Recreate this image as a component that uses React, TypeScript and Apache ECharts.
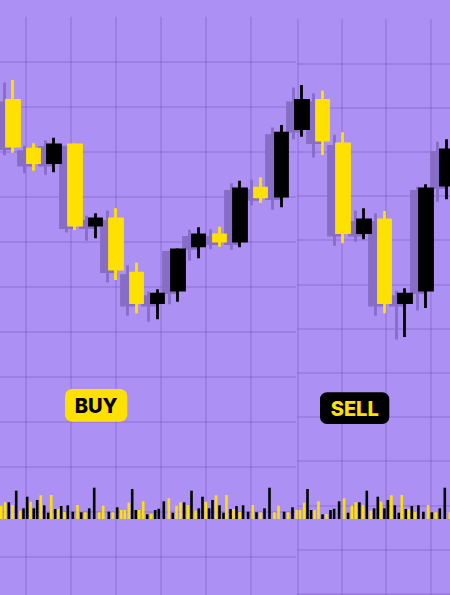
import React, { useEffect, useRef } from "react";
import * as echarts from "echarts";

// ---- candle data (price units) ----
const categories = [
  "D1", "D2", "D3", "D4", "D5", "D6", "D7", "D8", "D9", "D10", "D11",
  "D12", "D13", "D14", "D15", "D16", "D17", "D18", "D19", "D20", "D21", "D22",
];
const openPrices = [
  494.5, 445.8, 432.5, 450.2, 369.8, 376.2, 321.8, 292.5, 304.8, 349.2, 360.2,
  353.8, 406.8, 398.8, 466.5, 494.5, 451.2, 362.5, 375.2, 292.5, 304.8, 409.8,
];
const closePrices = [
  448.8, 432.5, 450.2, 369.8, 376.2, 325.8, 292.5, 300.8, 345.2, 360.2, 353.8,
  406.2, 398.2, 461.8, 494.5, 454.8, 362.5, 375.2, 292.5, 300.8, 406.0, 445.2,
];
const lowPrices = [
  442.3, 424.3, 422.7, 365.0, 356.7, 315.0, 281.7, 275.7, 293.3, 336.7, 348.3,
  347.7, 392.3, 387.7, 458.3, 440.0, 351.7, 355.7, 281.7, 258.0, 287.0, 395.7,
];
const highPrices = [
  515.0, 451.7, 457.3, 451.7, 381.7, 386.7, 332.3, 305.7, 346.7, 367.7, 368.3,
  414.3, 417.7, 470.0, 510.0, 504.3, 462.7, 386.7, 384.0, 306.7, 410.7, 455.7,
];

// ---- volume data ----
const volumeTimes = [
  1.2, 5.2, 8.8, 12.5, 16.2, 20.2, 23.5, 27.2, 30.5, 33.8, 37.2, 40.8, 44.2, 48.2, 51.2,
  55.2, 58.2, 61.2, 64.5, 67.8, 72.8, 77.5, 81.2, 85.2, 89.2, 94.2, 99.2, 103.2, 108.8, 112.8,
  117.2, 121.2, 124.8, 128.8, 132.2, 135.8, 139.2, 143.2, 147.2, 151.2, 155.2, 158.8, 163.8, 168.8, 172.8,
  176.5, 180.5, 184.1, 187.8, 191.5, 195.5, 198.8, 202.5, 205.8, 209.1, 212.5, 216.1, 219.5, 223.5, 226.5,
  230.5, 233.5, 236.5, 239.8, 243.1, 248.1, 252.8, 256.5, 260.5, 264.5, 269.5, 274.5, 278.5, 284.1, 288.1,
  292.5, 296.5, 300.1, 304.1, 307.5, 311.1, 314.5, 318.5, 322.5, 326.5, 330.5, 334.1, 339.1, 344.1, 348.1,
  351.8, 355.8, 359.4, 363.1, 366.8, 370.8, 374.1, 377.8, 381.1, 384.4, 387.8, 391.4, 394.8, 398.8, 401.8,
  405.8, 408.8, 411.8, 415.1, 418.4, 423.4, 428.1, 431.8, 435.8, 439.8, 444.8, 449.8,
];
const volumeValues = [
  13.3, 16.7, 16.7, 14, 28.3, 8.3, 10.7, 22.3, 17.3, 10.7, 19, 23.7, 13.7, 6.3, 24,
  10, 10, 13, 7, 13.7, 7.3, 14, 6.7, 6.7, 10.7, 31.3, 6.7, 13.3, 7.3, 6.7,
  11.7, 9, 9, 16.3, 30, 9, 9, 17.7, 4.7, 5, 9, 10.3, 17.7, 20.7, 6.3,
  13.3, 16.7, 16.7, 14, 28.3, 8.3, 10.7, 22.3, 17.3, 10.7, 19, 23.7, 13.7, 6.3, 24,
  10, 10, 13, 7, 13.7, 7.3, 14, 6.7, 6.7, 10.7, 31.3, 6.7, 13.3, 7.3, 6.7,
  11.7, 9, 9, 16.3, 30, 9, 9, 17.7, 4.7, 5, 9, 10.3, 17.7, 20.7, 6.3,
  13.3, 16.7, 16.7, 14, 28.3, 8.3, 10.7, 22.3, 17.3, 10.7, 19, 23.7, 13.7, 6.3, 24,
  10, 10, 13, 7, 13.7, 7.3, 14, 6.7, 6.7, 10.7, 31.3, 6.7,
];
// 1 = black (up), 0 = yellow (down)
const volumeUp = [
  0, 0, 1, 0, 1, 0, 1, 1, 0, 1, 1, 0, 1, 1, 0,
  1, 0, 1, 0, 1, 1, 0, 1, 0, 1, 1, 0, 0, 1, 0,
  1, 0, 0, 0, 1, 1, 0, 0, 1, 0, 1, 1, 1, 0, 1,
  0, 0, 1, 0, 1, 0, 1, 1, 0, 1, 1, 0, 1, 1, 0,
  1, 0, 1, 0, 1, 1, 0, 1, 0, 1, 1, 0, 0, 1, 0,
  1, 0, 0, 0, 1, 1, 0, 0, 1, 0, 1, 1, 1, 0, 1,
  0, 0, 1, 0, 1, 0, 1, 1, 0, 1, 1, 0, 1, 1, 0,
  1, 0, 1, 0, 1, 1, 0, 1, 0, 1, 1, 0,
];

const BG = "#ad90f3";
const YELLOW = "#ffe100";
const BLACK = "#000000";
const GRIDLINE = "rgba(90,60,160,0.24)";
const SHADOW = "#876dc6";

export default function App() {
  const ref = useRef<HTMLDivElement>(null);
  useEffect(() => {
    const chart = echarts.init(ref.current!, null, { renderer: "svg" });
    const candleData = categories.map((_, i) => [
      openPrices[i],
      closePrices[i],
      lowPrices[i],
      highPrices[i],
    ]);
    const volData = volumeTimes.map((t, i) => ({
      value: [t, volumeValues[i]],
      itemStyle: { color: volumeUp[i] ? BLACK : YELLOW },
    }));
    const hidden = {
      axisLine: { show: false },
      axisTick: { show: false },
      axisLabel: { show: false },
    };
    const split = { show: true, lineStyle: { color: GRIDLINE, width: 1.5 } };
    const ob = { outerBoundsMode: "none", containLabel: false };
    chart.setOption({
      animation: false,
      backgroundColor: BG,
      grid: [
        { ...ob, left: 0, top: 16.7, width: 296, height: 585 },
        { ...ob, left: 297.3, top: 19.2, width: 177.6, height: 618.8 },
        { ...ob, left: 12.8, top: 0, width: 433.65, height: 595 },
        { ...ob, left: 4.3, top: 2.5, width: 433.65, height: 595 },
        { ...ob, left: 0, top: 419, width: 450, height: 100 },
      ],
      xAxis: [
        { type: "value", gridIndex: 0, inverse: true, min: 0, max: 296, interval: 45, ...hidden, splitLine: { ...split, showMinLine: false, showMaxLine: false } },
        { type: "value", gridIndex: 1, min: 0, max: 177.6, interval: 44.4, ...hidden, splitLine: { ...split, showMaxLine: false } },
        { type: "category", gridIndex: 2, data: categories, boundaryGap: false, show: false },
        { type: "category", gridIndex: 3, data: categories, boundaryGap: false, show: false },
        { type: "value", gridIndex: 4, min: 0, max: 450, show: false, splitLine: { show: false } },
      ],
      yAxis: [
        { type: "value", gridIndex: 0, inverse: true, min: 0, max: 585, interval: 45, ...hidden, splitLine: { ...split, showMinLine: false } },
        { type: "value", gridIndex: 1, inverse: true, min: 0, max: 618.8, interval: 44.2, ...hidden, splitLine: { ...split, showMinLine: false } },
        { type: "value", gridIndex: 2, min: 0, max: 595, show: false, splitLine: { show: false } },
        { type: "value", gridIndex: 3, min: 0, max: 595, show: false, splitLine: { show: false } },
        { type: "value", gridIndex: 4, min: 0, max: 100, show: false, splitLine: { show: false } },
      ],
      series: [
        {
          type: "candlestick",
          xAxisIndex: 3,
          yAxisIndex: 3,
          data: candleData,
          barWidth: 13,
          clip: false,
          itemStyle: {
            color: SHADOW,
            color0: SHADOW,
            borderColor: SHADOW,
            borderColor0: SHADOW,
            borderWidth: 2.8,
          },
        },
        {
          type: "candlestick",
          xAxisIndex: 2,
          yAxisIndex: 2,
          data: candleData,
          barWidth: 13,
          clip: false,
          itemStyle: {
            color: BLACK,
            color0: YELLOW,
            borderColor: BLACK,
            borderColor0: YELLOW,
            borderWidth: 2.8,
          },
        },
        {
          type: "bar",
          xAxisIndex: 4,
          yAxisIndex: 4,
          data: volData,
          barWidth: 2.6,
        },
      ],
      graphic: [
        { type: "rect", z: 100, shape: { x: 65, y: 389, width: 62.3, height: 32.7, r: 7 }, style: { fill: YELLOW } },
        {
          type: "text", z: 101, x: 96.2, y: 405.8,
          style: { text: "BUY", fill: BLACK, fontSize: 20, fontWeight: 800, fontFamily: "Inter", align: "center", verticalAlign: "middle" },
        },
        { type: "rect", z: 100, shape: { x: 320, y: 392.3, width: 69.3, height: 31.7, r: 7 }, style: { fill: BLACK } },
        {
          type: "text", z: 101, x: 354.7, y: 408.5,
          style: { text: "SELL", fill: YELLOW, fontSize: 20, fontWeight: 800, fontFamily: "Inter", align: "center", verticalAlign: "middle" },
        },
      ],
    });
    return () => chart.dispose();
  }, []);
  return (
    <div
      ref={ref}
      style={{ position: "absolute", left: 0, top: 0, width: 450, height: 595 }}
    />
  );
}
